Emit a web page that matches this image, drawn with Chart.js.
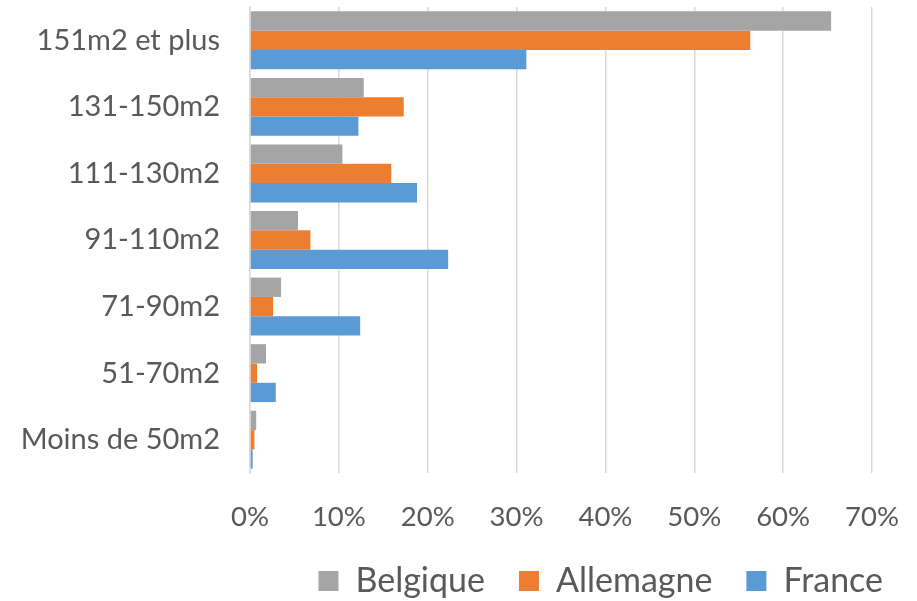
<!DOCTYPE html>
<html>
<head>
<meta charset="utf-8">
<script src="https://cdn.jsdelivr.net/npm/chart.js@4"></script>
<style>
  html, body { margin: 0; padding: 0; background: #fff; }
  #wrap { width: 917px; height: 601px; }
</style>
</head>
<body>
<div id="wrap"><canvas id="surfaceChart"></canvas></div>
<script>
const categories = ['151m2 et plus', '131-150m2', '111-130m2', '91-110m2', '71-90m2', '51-70m2', 'Moins de 50m2'];
const belgique = [65.4, 12.8, 10.4, 5.4, 3.5, 1.8, 0.7];
const allemagne = [56.3, 17.3, 15.9, 6.8, 2.6, 0.8, 0.5];
const france = [31.1, 12.2, 18.8, 22.3, 12.4, 2.9, 0.3];
const xTicks = [0, 10, 20, 30, 40, 50, 60, 70];

const textColor = '#595959';
const gridColor = '#d9d9d9';
const fontFamily = 'Lato, "Open Sans", sans-serif';

const ctx = document.getElementById('surfaceChart').getContext('2d');

new Chart(ctx, {
  type: 'bar',
  data: {
    labels: categories,
    datasets: [
      { label: 'Belgique', data: belgique, backgroundColor: '#a5a5a5' },
      { label: 'Allemagne', data: allemagne, backgroundColor: '#ed7d31' },
      { label: 'France', data: france, backgroundColor: '#5b9bd5' }
    ]
  },
  options: {
    indexAxis: 'y',
    responsive: true,
    maintainAspectRatio: false,
    animation: false,
    datasets: {
      bar: {
        categoryPercentage: 0.87,
        barPercentage: 1.0
      }
    },
    layout: {
      padding: { top: 7, left: 0, right: 0, bottom: -7 }
    },
    scales: {
      x: {
        min: xTicks[0],
        max: xTicks[xTicks.length - 1],
        afterBuildTicks: (scale) => {
          scale.ticks = xTicks.map(v => ({ value: v }));
        },
        afterFit: (scale) => {
          // keep the plot edge where the reference puts it
          scale.paddingRight = 45;
          scale.height = 57;
        },
        grid: {
          color: gridColor,
          lineWidth: 1.5,
          drawTicks: false
        },
        border: { display: false },
        ticks: {
          color: textColor,
          padding: 28,
          font: { family: fontFamily, size: 27.5 },
          callback: (v) => v + '%'
        }
      },
      y: {
        afterFit: (scale) => {
          scale.width = 250;
          scale.paddingTop = 0;
          scale.paddingBottom = 0;
        },
        grid: { display: false, drawTicks: false },
        border: { display: true, color: gridColor, width: 1.5 },
        ticks: {
          color: textColor,
          padding: 30,
          font: { family: fontFamily, size: 29 }
        }
      }
    },
    plugins: {
      legend: {
        position: 'bottom',
        align: 'end',
        labels: {
          color: textColor,
          boxWidth: 20,
          boxHeight: 20,
          padding: 34,
          font: { family: fontFamily, size: 34 }
        }
      },
      tooltip: { enabled: false }
    }
  }
});
</script>
</body>
</html>
